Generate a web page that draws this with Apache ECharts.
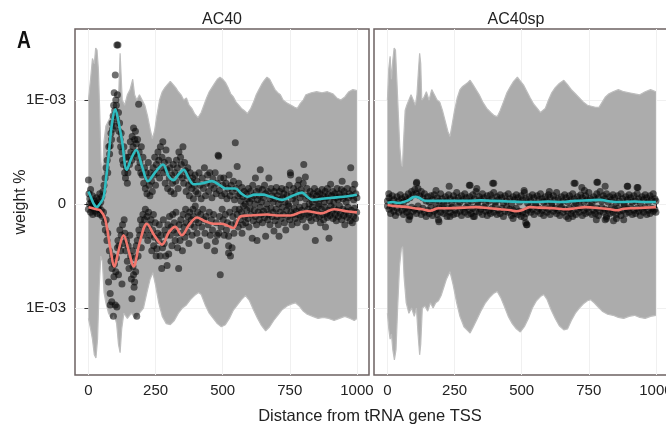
<!DOCTYPE html>
<html><head><meta charset="utf-8">
<script src="https://cdn.jsdelivr.net/npm/echarts@6/dist/echarts.min.js"></script>
<style>html,body{margin:0;padding:0;background:#fff}#c{width:666px;height:425px}</style>
</head><body><div id="c"></div>
<script>
// ---- facets / ticks (y values are in units of 1E-03 weight %) ----
const panels = ['AC40', 'AC40sp'];
const xTicks = [0, 250, 500, 750, 1000];
const yTicks = [-1, 0, 1];
const xTitle = 'Distance from tRNA gene TSS';
const yTitle = 'weight %';

// ---- grey null envelope (upper / lower), AC40 ----
const ac40EnvUp = [[0,1.0],[8,1.2],[15,1.4],[22,1.35],[27,1.5],[32,1.48],[37,1.3],[42,0.9],[47,0.4],[53,0.3],[58,0.6],[65,0.75],[75,0.8],[85,0.85],[95,0.88],[105,0.9],[112,1.0],[118,1.45],[122,1.45],[126,1.0],[135,0.95],[145,1.05],[155,1.1],[165,1.2],[172,1.05],[180,1.0],[190,1.05],[200,1.0],[210,0.95],[220,0.85],[230,0.72],[238,0.63],[246,0.7],[255,0.85],[265,1.0],[275,1.08],[285,1.12],[295,1.15],[305,1.18],[315,1.15],[325,1.12],[335,1.08],[345,1.05],[355,1.0],[365,1.02],[375,0.95],[385,0.92],[395,0.87],[408,0.83],[420,0.88],[430,0.95],[440,1.02],[450,1.08],[460,1.12],[470,1.16],[480,1.2],[490,1.22],[500,1.2],[510,1.17],[520,1.12],[530,1.06],[540,1.03],[550,0.98],[560,0.95],[570,0.92],[580,0.9],[592,0.87],[605,0.92],[615,0.98],[625,1.05],[635,1.1],[645,1.15],[655,1.19],[665,1.22],[675,1.2],[685,1.15],[695,1.1],[705,1.07],[715,1.05],[725,1.0],[740,0.97],[755,0.95],[768,0.93],[778,0.92],[790,0.97],[800,1.0],[810,1.05],[820,1.06],[830,1.07],[850,1.08],[870,1.07],[890,1.08],[910,1.06],[925,1.02],[940,1.0],[955,1.03],[970,1.08],[985,1.1],[1000,1.09]];
const ac40EnvLo = [[0,-1.1],[8,-1.2],[15,-1.3],[22,-1.45],[28,-1.48],[34,-1.3],[40,-0.8],[46,-0.5],[52,-0.55],[58,-0.85],[65,-0.95],[75,-1.05],[85,-1.1],[95,-1.05],[105,-1.15],[112,-1.35],[118,-1.43],[124,-1.2],[132,-1.05],[145,-1.1],[160,-1.05],[175,-1.1],[190,-1.05],[205,-1.0],[218,-0.85],[230,-0.72],[240,-0.66],[250,-0.78],[262,-0.95],[275,-1.08],[290,-1.15],[305,-1.16],[320,-1.12],[335,-1.05],[350,-1.0],[365,-0.97],[380,-0.92],[395,-0.88],[410,-0.85],[420,-0.87],[435,-0.97],[450,-1.05],[465,-1.1],[480,-1.15],[495,-1.18],[510,-1.16],[525,-1.1],[540,-1.02],[555,-0.97],[570,-0.92],[585,-0.88],[600,-0.93],[615,-1.02],[630,-1.1],[645,-1.17],[660,-1.22],[675,-1.18],[690,-1.12],[705,-1.07],[720,-1.02],[740,-0.98],[758,-0.96],[771,-0.95],[785,-0.98],[800,-1.03],[815,-1.06],[835,-1.08],[855,-1.1],[875,-1.09],[895,-1.1],[915,-1.12],[935,-1.1],[955,-1.08],[975,-1.1],[990,-1.12],[1000,-1.1]];

// ---- grey null envelope, AC40sp ----
const ac40spEnvUp = [[0,1.0],[5,1.3],[10,1.42],[15,1.2],[20,1.38],[25,1.5],[30,1.48],[35,1.2],[40,0.9],[46,0.55],[52,0.38],[56,0.36],[60,0.6],[66,0.9],[72,0.95],[80,1.0],[88,1.05],[96,1.0],[104,0.95],[110,1.05],[116,1.3],[120,1.45],[124,1.35],[128,1.0],[135,1.02],[145,1.08],[155,1.0],[165,1.1],[175,1.05],[185,1.0],[195,0.98],[205,0.9],[215,0.8],[225,0.7],[233,0.65],[240,0.75],[250,0.9],[260,1.02],[270,1.1],[280,1.13],[290,1.15],[300,1.17],[308,1.19],[318,1.15],[330,1.1],[342,1.05],[355,0.98],[370,0.92],[385,0.88],[398,0.85],[409,0.84],[420,0.9],[432,0.98],[445,1.07],[458,1.13],[470,1.18],[484,1.22],[496,1.18],[508,1.14],[520,1.08],[532,1.02],[545,0.96],[558,0.92],[570,0.88],[577,0.87],[588,0.92],[600,1.0],[612,1.07],[625,1.12],[640,1.16],[657,1.19],[670,1.15],[685,1.1],[700,1.06],[715,1.02],[730,0.98],[745,0.95],[760,0.94],[775,0.93],[788,0.93],[800,0.98],[812,1.03],[825,1.06],[840,1.08],[860,1.1],[880,1.08],[900,1.07],[920,1.06],[940,1.05],[960,1.08],[980,1.1],[1000,1.08]];
const ac40spEnvLo = [[0,-1.05],[5,-1.2],[10,-1.3],[15,-1.25],[20,-1.4],[26,-1.5],[32,-1.4],[38,-1.0],[45,-0.6],[52,-0.43],[57,-0.41],[62,-0.7],[70,-0.95],[80,-1.05],[90,-1.0],[100,-1.08],[108,-1.0],[114,-1.25],[120,-1.45],[124,-1.35],[130,-1.0],[140,-0.98],[150,-1.03],[160,-0.95],[170,-1.0],[180,-0.95],[190,-0.93],[200,-0.88],[210,-0.8],[220,-0.72],[233,-0.65],[245,-0.78],[258,-0.95],[270,-1.08],[285,-1.18],[300,-1.22],[308,-1.24],[320,-1.18],[335,-1.1],[350,-1.02],[365,-0.95],[380,-0.9],[395,-0.86],[409,-0.84],[422,-0.9],[435,-0.98],[450,-1.08],[465,-1.15],[480,-1.2],[495,-1.23],[510,-1.18],[525,-1.1],[540,-1.0],[555,-0.93],[570,-0.89],[582,-0.87],[595,-0.92],[610,-1.02],[625,-1.1],[640,-1.17],[657,-1.21],[671,-1.2],[685,-1.12],[700,-1.05],[715,-1.0],[730,-0.96],[745,-0.93],[757,-0.92],[770,-0.95],[785,-0.99],[800,-1.03],[820,-1.06],[840,-1.07],[860,-1.09],[880,-1.1],[900,-1.08],[920,-1.07],[940,-1.09],[960,-1.1],[980,-1.08],[1000,-1.07]];

// ---- points, AC40 ----
const ac40Pos = [[0,.23],[2,.1],[5,.05],[8,.14],[12,.02],[15,.08],[18,-.01],[22,.03],[26,0],[30,.06],[34,-.02],[38,.04],[42,.1],[46,.02],[50,.07],[54,.12],[58,.18],[62,.25],[66,.35],[70,.42],[72,.3],[76,.55],[79,.48],[81,.56],[84,.68],[86,.62],[88,.78],[90,.72],[92,.85],[94,.95],[96,1.07],[98,.9],[100,1.24],[102,1.0],[104,.95],[106,1.53],[110,1.53],[108,1.05],[105,.82],[99,.75],[112,.88],[114,.7],[116,.78],[118,.62],[120,.55],[122,.68],[125,.5],[127,.42],[130,.38],[132,.55],[135,.3],[138,.25],[140,.45],[142,.35],[145,.2],[147,.3],[150,.45],[153,.38],[156,.6],[158,.5],[161,.42],[163,.65],[166,.55],[168,.73],[170,.48],[172,.62],[175,.7],[178,.58],[180,.45],[183,.62],[185,.35],[187,.96],[189,.5],[192,.4],[195,.3],[197,.55],[200,.28],[203,.45],[206,.2],[209,.35],[212,.15],[215,.3],[218,.1],[220,.25],[223,.4],[226,.18],[229,.08],[232,.3],[235,.22],[238,.12],[241,.35],[244,.28],[247,.45],[250,.18],[253,.38],[256,.3],[259,.5],[262,.42],[265,.25],[268,.55],[271,.35],[274,.45],[277,.6],[280,.3],[283,.4],[286,.2],[289,.52],[292,.33],[295,.15],[298,.42],[301,.25],[304,.35],[307,.12],[310,.28],[313,.2],[316,.38],[319,.1],[322,.3],[325,.22],[328,.42],[331,.35],[334,.15],[337,.5],[340,.28],[343,.45],[346,.38],[349,.25],[352,.55],[355,.2],[358,.4],[361,.32],[364,.12],[367,.27],[370,.35],[373,.18],[376,.08],[379,.3],[382,.22],[385,.15],[388,.25],[391,.05],[394,.18],[397,.28],[400,.12],[404,.22],[408,.1],[412,.3],[416,.18],[420,.05],[424,.25],[428,.15],[432,.35],[436,.08],[440,.2],[444,.28],[448,.12],[452,.3],[456,.18],[460,.06],[464,.24],[468,.15],[472,.3],[476,.1],[480,.2],[483,.47],[485,.46],[488,.13],[492,.25],[496,.08],[500,.18],[504,.25],[508,.1],[512,.2],[516,.05],[520,.15],[524,.28],[528,.08],[532,.18],[536,.12],[540,.22],[544,.04],[547,.59],[550,.15],[554,.36],[556,.08],[560,.2],[564,.1],[568,.03],[572,.16],[576,.07],[580,.12],[584,0],[588,.1],[592,.05],[596,.15],[600,.02],[604,.12],[608,.05],[612,.18],[616,.08],[620,0],[622,.25],[626,.12],[630,.04],[634,.15],[638,.08],[640,.33],[644,.02],[648,.14],[652,.06],[656,.18],[660,.1],[664,0],[668,.12],[672,.25],[676,.05],[680,.15],[684,.08],[688,.02],[692,.12],[696,.05],[700,.16],[704,.08],[708,0],[712,.12],[716,.04],[720,.15],[724,.06],[728,.1],[732,.02],[736,.14],[740,.08],[744,0],[748,.18],[752,.3],[753,.28],[756,.1],[760,.05],[764,.15],[768,.08],[772,.02],[776,.12],[780,.18],[784,.23],[788,.06],[792,.14],[796,.1],[800,.2],[802,.38],[808,.26],[810,.05],[814,.15],[818,.08],[822,0],[826,.12],[830,.06],[834,.02],[838,.1],[842,.15],[846,.04],[850,.08],[854,.12],[858,0],[862,.1],[866,.05],[870,.14],[874,.08],[878,.02],[882,.12],[886,.06],[890,.15],[894,.09],[898,.03],[902,.19],[906,.08],[910,.12],[914,.02],[918,.1],[922,.06],[926,.15],[930,.04],[934,.1],[938,.07],[942,.14],[945,.22],[948,.05],[952,.12],[956,.08],[960,.02],[964,.15],[968,.06],[972,.1],[977,.35],[980,.08],[984,.14],[988,.04],[992,.19],[996,.1],[1000,.06]];
const ac40Neg = [[0,-.05],[4,0],[8,-.08],[12,-.03],[16,-.1],[20,-.04],[24,-.07],[28,0],[32,-.09],[36,-.05],[40,-.02],[44,-.1],[48,-.06],[52,-.12],[56,-.08],[60,-.18],[63,-.25],[66,-.15],[69,-.35],[72,-.28],[75,-.75],[78,-.45],[81,-.86],[81,-.97],[84,-.55],[87,-.94],[88,-.62],[90,-.5],[93,-1.08],[95,-.7],[97,-.58],[100,-.97],[102,-.65],[104,-.52],[106,-.99],[108,-.42],[110,-.35],[112,-.68],[114,-.4],[117,-.25],[120,-.45],[122,-.3],[125,-.77],[127,-.2],[130,-.38],[133,-.15],[136,-.28],[139,-.45],[142,-.35],[145,-.55],[148,-.4],[151,-.62],[154,-.3],[157,-.5],[160,-.72],[162,-.91],[164,-.45],[166,-.6],[168,-.68],[170,-.8],[172,-.75],[174,-.52],[176,-.65],[178,-.4],[180,-1.08],[182,-.35],[185,-.5],[188,-.25],[191,-.3],[194,-.15],[197,-.42],[200,-.2],[203,-.1],[206,-.3],[209,-.15],[212,-.05],[215,-.25],[218,-.12],[221,-.35],[224,-.08],[227,-.2],[230,-.3],[233,-.15],[236,-.45],[239,-.25],[242,-.1],[243,-.4],[246,-.32],[249,-.18],[252,-.5],[255,-.43],[258,-.28],[261,-.35],[264,-.2],[267,-.5],[270,-.3],[273,-.62],[276,-.42],[279,-.15],[282,-.38],[285,-.25],[288,-.5],[291,-.3],[293,-.59],[296,-.2],[299,-.48],[302,-.12],[305,-.3],[308,-.22],[311,-.4],[314,-.1],[317,-.25],[320,-.18],[323,-.35],[326,-.08],[329,-.28],[332,-.42],[336,-.62],[338,-.2],[341,-.35],[344,-.15],[347,-.28],[350,-.45],[353,-.1],[356,-.22],[359,-.32],[362,-.05],[365,-.18],[368,-.27],[371,-.12],[374,-.38],[377,-.08],[380,-.2],[383,-.15],[386,-.3],[389,-.05],[392,-.12],[395,-.22],[398,-.02],[401,-.15],[404,-.28],[407,-.08],[410,-.18],[414,-.35],[418,-.1],[422,-.22],[426,-.05],[430,-.15],[434,-.28],[438,-.12],[442,-.4],[446,-.2],[450,-.08],[454,-.3],[458,-.15],[462,-.25],[466,-.1],[470,-.45],[473,-.36],[476,-.18],[480,-.3],[485,-.28],[488,-.12],[491,-.68],[494,-.22],[498,-.05],[502,-.15],[506,-.3],[510,-.1],[514,-.25],[518,-.18],[522,-.47],[522,-.31],[522,-.4],[526,-.08],[529,-.5],[532,-.2],[535,-.42],[538,-.12],[542,-.28],[546,-.05],[550,-.18],[554,-.1],[558,-.22],[562,-.05],[566,-.15],[570,-.08],[572,-.28],[575,-.2],[578,-.02],[582,-.12],[586,-.18],[590,-.06],[594,-.14],[598,-.22],[602,-.04],[606,-.1],[610,-.33],[614,-.16],[618,-.06],[622,-.12],[626,-.2],[628,-.35],[632,-.08],[636,-.15],[640,-.03],[644,-.1],[648,-.18],[652,-.07],[656,-.13],[660,-.31],[664,-.05],[668,-.15],[672,-.1],[676,-.2],[680,-.04],[684,-.12],[688,-.08],[691,-.26],[695,-.16],[699,-.05],[703,-.12],[707,-.2],[710,-.31],[714,-.08],[718,-.14],[722,-.03],[726,-.1],[730,-.18],[735,-.25],[738,-.06],[742,-.12],[746,-.02],[750,-.15],[754,-.08],[758,-.2],[762,-.1],[766,-.04],[770,-.14],[774,-.07],[778,-.18],[782,-.1],[786,-.03],[790,-.12],[794,-.06],[798,-.15],[802,-.09],[806,-.02],[810,-.22],[814,-.1],[818,-.05],[822,-.13],[826,-.08],[830,-.16],[834,-.03],[838,-.1],[842,-.06],[845,-.35],[848,-.14],[852,-.08],[856,-.02],[860,-.12],[864,-.18],[868,-.05],[872,-.1],[876,-.15],[880,-.03],[883,-.22],[886,-.09],[890,-.13],[894,-.06],[896,-.33],[899,-.11],[903,-.02],[907,-.08],[911,-.14],[915,-.04],[919,-.1],[923,-.16],[927,-.06],[931,-.12],[935,-.02],[939,-.09],[943,-.15],[947,-.05],[951,-.11],[955,-.2],[959,-.07],[963,-.13],[967,-.03],[971,-.1],[975,-.16],[979,-.06],[983,-.18],[987,-.12],[991,-.04],[995,-.14],[999,-.08]];

// ---- points, AC40sp ----
const ac40spPos = [[0,.03],[6,.06],[12,.01],[18,.08],[24,.04],[30,0],[36,.07],[42,.03],[48,.09],[54,.05],[60,.02],[66,.07],[72,.04],[78,.1],[84,.06],[90,.12],[96,.09],[102,.14],[108,.1],[114,.15],[120,.08],[126,.12],[132,.06],[138,.1],[144,.03],[150,.07],[156,.02],[162,.08],[168,.04],[174,.09],[180,.01],[186,.06],[192,.03],[198,.1],[204,.05],[210,0],[216,.07],[222,.03],[228,.09],[234,.05],[240,.01],[246,.08],[252,.04],[258,.11],[264,.06],[270,.02],[276,.08],[282,.04],[288,.1],[294,.06],[300,.01],[306,.07],[312,.03],[318,.09],[324,.05],[330,.12],[336,.02],[342,.07],[348,.04],[354,.1],[360,.06],[366,0],[372,.08],[378,.03],[384,.09],[390,.05],[396,.11],[402,.02],[408,.07],[414,.04],[420,.09],[426,.06],[432,.01],[438,.08],[444,.03],[450,.1],[456,.05],[462,0],[468,.07],[474,.04],[480,.09],[486,.06],[492,.02],[498,.08],[504,.04],[510,.11],[516,.05],[522,.01],[528,.07],[534,.03],[540,.09],[546,.06],[552,0],[558,.08],[564,.04],[570,.1],[576,.05],[582,.02],[588,.07],[594,.03],[600,.09],[606,.06],[612,.01],[618,.08],[624,.04],[630,.11],[636,.05],[642,0],[648,.07],[654,.03],[660,.09],[666,.06],[672,.02],[678,.08],[684,.04],[690,.1],[696,.05],[702,.01],[708,.07],[714,.03],[720,.09],[726,.06],[732,.02],[738,.08],[744,.04],[750,.11],[756,.05],[762,0],[768,.07],[774,.04],[780,.1],[786,.06],[792,.12],[798,.03],[804,.08],[810,.05],[816,.1],[822,.02],[828,.07],[834,.04],[840,.09],[846,.06],[852,.01],[858,.08],[864,.03],[870,.1],[876,.05],[882,0],[888,.07],[894,.04],[900,.09],[906,.06],[912,.02],[918,.08],[924,.03],[930,.1],[936,.05],[942,.01],[948,.07],[954,.04],[960,.09],[966,.06],[972,.02],[978,.08],[984,.04],[990,.1],[996,.05],[1000,.03],[5,.1],[108,.2],[109,.21],[181,.13],[230,.17],[305,.18],[308,.18],[333,.15],[392,.2],[396,.2],[509,.13],[603,.12],[695,.2],[699,.2],[724,.16],[734,.13],[780,.21],[783,.21],[811,.17],[893,.17],[895,.17],[930,.16],[933,.16]];
const ac40spNeg = [[0,-.02],[6,-.05],[12,-.09],[18,-.03],[24,-.07],[30,-.11],[36,-.04],[42,-.08],[48,-.01],[54,-.06],[60,-.1],[66,-.04],[72,-.08],[78,-.05],[84,-.12],[90,-.03],[96,-.07],[102,-.05],[108,-.09],[114,-.02],[120,-.06],[126,-.1],[132,-.04],[138,-.08],[144,-.12],[150,-.06],[156,-.09],[162,-.03],[168,-.11],[174,-.07],[180,-.05],[186,-.1],[192,-.04],[198,-.08],[204,-.02],[210,-.09],[216,-.06],[222,-.12],[228,-.04],[234,-.08],[240,-.03],[246,-.1],[252,-.06],[258,-.09],[264,-.02],[270,-.07],[276,-.11],[282,-.05],[288,-.08],[294,-.03],[300,-.1],[306,-.06],[312,-.09],[318,-.04],[324,-.12],[330,-.07],[336,-.02],[342,-.08],[348,-.05],[354,-.1],[360,-.03],[366,-.07],[372,-.11],[378,-.06],[384,-.09],[390,-.04],[396,-.08],[402,-.02],[408,-.1],[414,-.06],[420,-.09],[426,-.04],[432,-.12],[438,-.07],[444,-.03],[450,-.08],[456,-.05],[462,-.11],[468,-.06],[474,-.09],[480,-.04],[486,-.1],[492,-.07],[498,-.12],[504,-.08],[510,-.13],[516,-.09],[522,-.06],[528,-.03],[534,-.08],[540,-.05],[546,-.1],[552,-.02],[558,-.07],[564,-.04],[570,-.09],[576,-.06],[582,-.11],[588,-.03],[594,-.08],[600,-.05],[606,-.1],[612,-.02],[618,-.07],[624,-.04],[630,-.09],[636,-.06],[642,-.11],[648,-.03],[654,-.08],[660,-.05],[666,-.12],[672,-.07],[678,-.04],[684,-.09],[690,-.06],[696,-.02],[702,-.1],[708,-.05],[714,-.08],[720,-.03],[726,-.11],[732,-.06],[738,-.09],[744,-.04],[750,-.08],[756,-.02],[762,-.1],[768,-.06],[774,-.09],[780,-.04],[786,-.11],[792,-.07],[798,-.03],[804,-.08],[810,-.05],[816,-.12],[822,-.06],[828,-.09],[834,-.03],[840,-.08],[846,-.05],[852,-.1],[858,-.04],[864,-.07],[870,-.11],[876,-.06],[882,-.02],[888,-.09],[894,-.05],[900,-.08],[906,-.03],[912,-.1],[918,-.06],[924,-.09],[930,-.04],[936,-.07],[942,-.11],[948,-.05],[954,-.08],[960,-.03],[966,-.1],[972,-.06],[978,-.09],[984,-.04],[990,-.07],[996,-.05],[1000,-.08],[80,-.15],[83,-.11],[190,-.15],[192,-.17],[233,-.12],[320,-.12],[468,-.14],[515,-.18],[518,-.2],[520,-.2],[674,-.14],[690,-.12],[778,-.15],[811,-.15],[816,-.14],[842,-.16],[853,-.14],[880,-.15]];

// ---- smoothed mean lines ----
const ac40Cyan = [[0,0.12],[10,0.06],[20,0.0],[31,-0.03],[42,0.0],[56,0.06],[66,0.25],[75,0.46],[88,0.78],[100,0.91],[110,0.82],[125,0.61],[143,0.33],[160,0.44],[178,0.52],[200,0.36],[222,0.22],[250,0.31],[278,0.38],[298,0.27],[317,0.23],[337,0.29],[355,0.33],[373,0.25],[392,0.19],[425,0.2],[460,0.22],[490,0.18],[510,0.15],[547,0.15],[570,0.1],[591,0.07],[620,0.09],[647,0.09],[680,0.07],[722,0.04],[760,0.08],[796,0.11],[815,0.07],[834,0.04],[870,0.05],[908,0.06],[950,0.07],[1000,0.09]];
const ac40Red = [[0,-0.03],[15,-0.04],[30,-0.05],[44,-0.06],[62,-0.14],[80,-0.4],[97,-0.6],[112,-0.45],[131,-0.3],[150,-0.45],[168,-0.6],[190,-0.38],[218,-0.19],[245,-0.3],[274,-0.39],[300,-0.27],[323,-0.22],[348,-0.3],[375,-0.2],[404,-0.13],[430,-0.16],[466,-0.19],[495,-0.19],[520,-0.21],[540,-0.23],[566,-0.12],[600,-0.11],[666,-0.1],[710,-0.11],[753,-0.11],[790,-0.08],[815,-0.07],[865,-0.09],[915,-0.05],[960,-0.07],[1000,-0.08]];
const ac40spCyan = [[0,0.01],[20,0.02],[40,0.01],[61,0.02],[80,0.04],[95,0.065],[105,0.07],[118,0.06],[135,0.035],[148,0.03],[180,0.03],[220,0.03],[260,0.03],[300,0.03],[350,0.035],[400,0.03],[450,0.025],[500,0.02],[550,0.02],[600,0.025],[650,0.02],[700,0.03],[750,0.035],[793,0.04],[830,0.025],[870,0.02],[920,0.025],[960,0.02],[1000,0.02]];
const ac40spRed = [[0,-0.01],[30,-0.02],[60,-0.025],[100,-0.04],[130,-0.05],[159,-0.065],[190,-0.04],[230,-0.04],[280,-0.035],[330,-0.03],[380,-0.04],[420,-0.05],[460,-0.06],[480,-0.07],[500,-0.06],[530,-0.03],[570,-0.035],[620,-0.04],[667,-0.05],[700,-0.04],[740,-0.03],[790,-0.04],[830,-0.05],[855,-0.06],[880,-0.045],[920,-0.04],[960,-0.035],[1000,-0.03]];

// ---------------- build chart ----------------
const FONT = '"Liberation Sans", Arial, Helvetica, sans-serif';
const TXT = '#222';
const GREY = '#acacac';
const CYAN = '#2fbcc0';
const RED = '#f1756c';
const YMIN = -1.644, YMAX = 1.683;

const envUp = [ac40EnvUp, ac40spEnvUp];
const envLo = [ac40EnvLo, ac40spEnvLo];
const ptsPos = [ac40Pos, ac40spPos];
const ptsNeg = [ac40Neg, ac40spNeg];
const cyanL = [ac40Cyan, ac40spCyan];
const redL = [ac40Red, ac40spRed];

const grids = [
  {left: 75, top: 29, width: 294, height: 346},
  {left: 374, top: 29, width: 294, height: 346}
].map(g => Object.assign(g, {show: true, borderColor: '#6c6262', borderWidth: 1.5, backgroundColor: 'transparent', containLabel: false, outerBoundsMode: 'none'}));

const xAxes = panels.map((p, i) => ({
  gridIndex: i, type: 'value', min: -50, max: 1045,
  axisLine: {show: false},
  axisTick: {show: true, customValues: xTicks, length: 4, lineStyle: {color: '#333', width: 1}},
  axisLabel: {customValues: xTicks, fontSize: 15, color: TXT, fontFamily: FONT, margin: 8, formatter: v => String(v)},
  splitLine: {show: true, lineStyle: {color: '#f0f0f0', width: 1}}
}));
const yAxes = panels.map((p, i) => ({
  gridIndex: i, type: 'value', min: YMIN, max: YMAX,
  axisLine: {show: false},
  axisTick: {show: i === 0, customValues: yTicks, length: 4, lineStyle: {color: '#333', width: 1}},
  axisLabel: {show: i === 0, customValues: yTicks, fontSize: 15, color: TXT, fontFamily: FONT, margin: 9,
              formatter: v => (Math.abs(v) < 1e-9 ? '0' : '1E-03')},
  splitLine: {show: true, lineStyle: {color: '#f0f0f0', width: 1}}
}));

const series = [];
panels.forEach((p, i) => {
  [envUp[i], envLo[i]].forEach(d => series.push({
    type: 'line', xAxisIndex: i, yAxisIndex: i, data: d, symbol: 'none', z: 1,
    lineStyle: {width: 1.2, color: '#bdbdbd'}, areaStyle: {color: GREY, opacity: 1}, silent: true, animation: false
  }));
  [ptsPos[i], ptsNeg[i]].forEach(d => series.push({
    type: 'scatter', xAxisIndex: i, yAxisIndex: i, data: d, symbolSize: 7, z: 3,
    itemStyle: {color: 'rgba(5,5,5,0.72)', borderWidth: 0}, silent: true, animation: false
  }));
  series.push({type: 'line', xAxisIndex: i, yAxisIndex: i, data: cyanL[i], symbol: 'none', smooth: 0.35, z: 5,
    lineStyle: {color: CYAN, width: 2.6}, animation: false});
  series.push({type: 'line', xAxisIndex: i, yAxisIndex: i, data: redL[i], symbol: 'none', smooth: 0.35, z: 5,
    lineStyle: {color: RED, width: 2.6}, animation: false});
});

const chart = echarts.init(document.getElementById('c'), null, {renderer: 'canvas'});
chart.setOption({
  backgroundColor: '#ffffff',
  animation: false,
  grid: grids, xAxis: xAxes, yAxis: yAxes, series: series,
  graphic: [
    {type: 'text', x: 222, y: 20, style: {text: panels[0], font: '16px ' + FONT, fill: TXT, align: 'center', verticalAlign: 'middle'}},
    {type: 'text', x: 516, y: 20, style: {text: panels[1], font: '16px ' + FONT, fill: TXT, align: 'center', verticalAlign: 'middle'}},
    {type: 'text', x: 370, y: 416, style: {text: xTitle, font: '16.5px ' + FONT, fill: TXT, align: 'center', verticalAlign: 'middle'}},
    {type: 'text', x: 21, y: 202, rotation: Math.PI / 2, style: {text: yTitle, font: '16px ' + FONT, fill: TXT, align: 'center', verticalAlign: 'middle'}},
    {type: 'text', x: 24, y: 41, scaleX: 0.8, style: {text: 'A', font: 'bold 24px ' + FONT, fill: '#111', align: 'center', verticalAlign: 'middle'}}
  ]
});
</script>
</body></html>
